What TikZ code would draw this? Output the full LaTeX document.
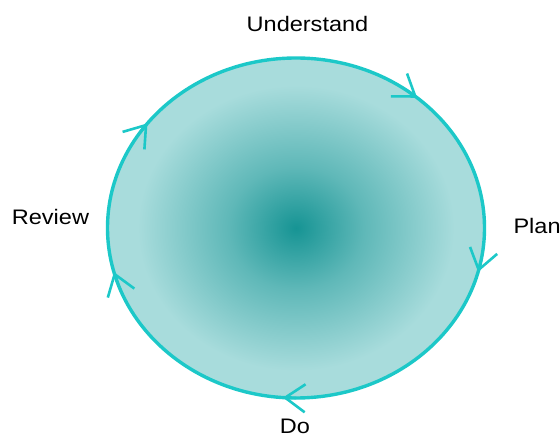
\documentclass[tikz,border=0pt]{standalone}
\usepackage{fontspec}
\setmainfont{Liberation Sans}
\usetikzlibrary{arrows.meta}
\definecolor{discdark}{RGB}{22,148,148}
\definecolor{disclight}{RGB}{168,220,220}
\definecolor{ringcol}{RGB}{28,200,200}
\pgfdeclareradialshading{discshade}{\pgfpoint{0bp}{0bp}}{%
  color(0bp)=(discdark); color(9bp)=(discdark!50!disclight);
  color(21bp)=(disclight); color(50bp)=(disclight)}

\begin{document}
\begin{tikzpicture}[x=1pt,y=-1pt,>={Straight Barb[length=20pt,width=28pt]},
    ring/.style={ringcol,line width=3.4pt},
    tip/.style={ringcol,line width=2.6pt,line cap=round,->},
    label/.style={inner sep=0pt,xscale=1.12,font=\fontsize{21}{25}\selectfont}]
  \useasboundingbox (0,0) rectangle (560,438);
  % disc and ring
  \coordinate (c) at (296,228);
  \shade[shading=discshade] (c) ellipse [x radius=188.5, y radius=170];
  \draw[ring] (c) ellipse [x radius=188.5, y radius=170];
  % arrow heads, clockwise
  \foreach \a in {310,15,94,165,218}
    \draw[tip,shift={(c)}] (\a-4:188.5 and 170) -- (\a:188.5 and 170);
  % stage labels
  \node[label,anchor=base] (understand) at (307.5,31.7) {Understand};
  \node[label,anchor=base west] (plan) at (513.3,234) {Plan};
  \node[label,anchor=base] (do) at (295,434) {Do};
  \node[label,anchor=base west] (review) at (11.7,225) {Review};
\end{tikzpicture}
\end{document}
